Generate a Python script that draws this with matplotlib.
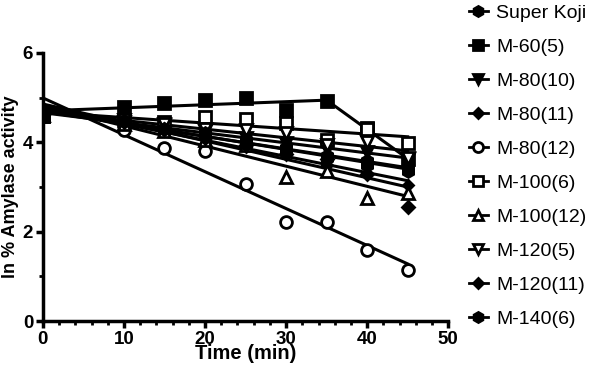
import numpy as np
import matplotlib
matplotlib.use("Agg")
import matplotlib.pyplot as plt
from matplotlib.ticker import MultipleLocator

plt.rcParams["font.family"] = ["Liberation Sans", "DejaVu Sans"]

# sampling times (min)
times = [0, 10, 15, 20, 25, 30, 35, 40, 45]

# ln % amylase activity per strain
super_koji = [4.62, 4.48, 4.28, 4.17, 3.98, 3.88, 3.66, 3.58, 3.42]
m60_5 = [4.60, 4.79, 4.88, 4.94, 4.99, 4.72, 4.93, 4.32, 3.62]
m80_10 = [4.60, 4.45, 4.38, 4.25, 4.10, 3.98, 3.85, 3.78, 3.62]
m80_11 = [4.62, 4.50, 4.25, 4.10, 3.90, 3.75, 3.50, 3.30, 3.05]
m80_12 = [4.60, 4.28, 3.87, 3.80, 3.07, 2.22, 2.22, 1.59, 1.14]
m100_6 = [4.60, 4.50, 4.45, 4.56, 4.52, 4.43, 4.05, 4.30, 3.98]
m100_12 = [4.62, 4.40, 4.25, 4.05, 3.95, 3.22, 3.35, 2.75, 2.86]
m120_5 = [4.60, 4.50, 4.40, 4.30, 4.28, 4.20, 3.95, 4.00, 3.65]
m120_11 = [4.62, 4.45, 4.30, 4.10, 3.95, 3.75, 3.62, 3.30, 2.55]
m140_6 = [4.60, 4.48, 4.30, 4.20, 4.05, 3.85, 3.70, 3.50, 3.35]

# M-60(5) follows two segments, break at 35 min
m60_break = 35

series = [
    ("Super Koji", super_koji, "h", "black"),
    ("M-60(5)", m60_5, "s", "black"),
    ("M-80(10)", m80_10, "v", "black"),
    ("M-80(11)", m80_11, "D", "black"),
    ("M-80(12)", m80_12, "o", "white"),
    ("M-100(6)", m100_6, "s", "white"),
    ("M-100(12)", m100_12, "^", "white"),
    ("M-120(5)", m120_5, "v", "white"),
    ("M-120(11)", m120_11, "D", "black"),
    ("M-140(6)", m140_6, "h", "black"),
]
marker_size = {"D": 6.5}

fig = plt.figure(figsize=(5.96, 3.70), dpi=100)
ax = fig.add_axes([0.072, 0.132, 0.680, 0.725])

t = np.array(times, dtype=float)
t_end = t.max()
handles = []
for label, vals, mk, face in series:
    y = np.array(vals)
    ms = marker_size.get(mk, 8.5)
    if label == "M-80(11)":
        ms = 5.5
    if label == "M-60(5)":
        first = t <= m60_break
        second = t >= m60_break
        p1 = np.polyfit(t[first], y[first], 1)
        p2 = np.polyfit(t[second], y[second], 1)
        lx = [0, m60_break, t_end]
        ly = [np.polyval(p1, 0), np.polyval(p1, m60_break), np.polyval(p2, t_end)]
    else:
        p = np.polyfit(t, y, 1)
        lx = [0, t_end]
        ly = np.polyval(p, lx)
    ax.plot(lx, ly, color="black", lw=2.2, zorder=2)
    ax.plot(t, y, ls="none", marker=mk, ms=ms, mfc=face, mec="black",
            mew=2, zorder=3)
    h, = ax.plot([], [], color="black", lw=2, marker=mk, ms=ms * 0.85,
                 mfc=face, mec="black", mew=2, label=label)
    handles.append(h)

ax.set_xlim(0, 50)
ax.set_ylim(0, 6)
ax.xaxis.set_major_locator(MultipleLocator(10))
ax.xaxis.set_minor_locator(MultipleLocator(2))
ax.yaxis.set_major_locator(MultipleLocator(2))
ax.yaxis.set_minor_locator(MultipleLocator(1))
for side in ("top", "right"):
    ax.spines[side].set_visible(False)
for side in ("left", "bottom"):
    ax.spines[side].set_linewidth(2.5)
ax.tick_params(which="major", direction="out", length=5, width=2.5,
               labelsize=13.5, pad=2)
ax.tick_params(which="minor", direction="out", length=3, width=2)
for lab in ax.get_xticklabels() + ax.get_yticklabels():
    lab.set_fontweight("bold")

ax.set_xlabel("Time (min)", fontsize=14.5, fontweight="bold", labelpad=-3)
ax.set_ylabel("ln % Amylase activity", fontsize=13, fontweight="bold",
              labelpad=3)

fig.legend(handles=handles, loc="upper left", bbox_to_anchor=(0.757, 1.035),
           frameon=False, fontsize=14, handlelength=1.0, handletextpad=0.4,
           labelspacing=0.84)

fig.savefig("out.png", dpi=100)
